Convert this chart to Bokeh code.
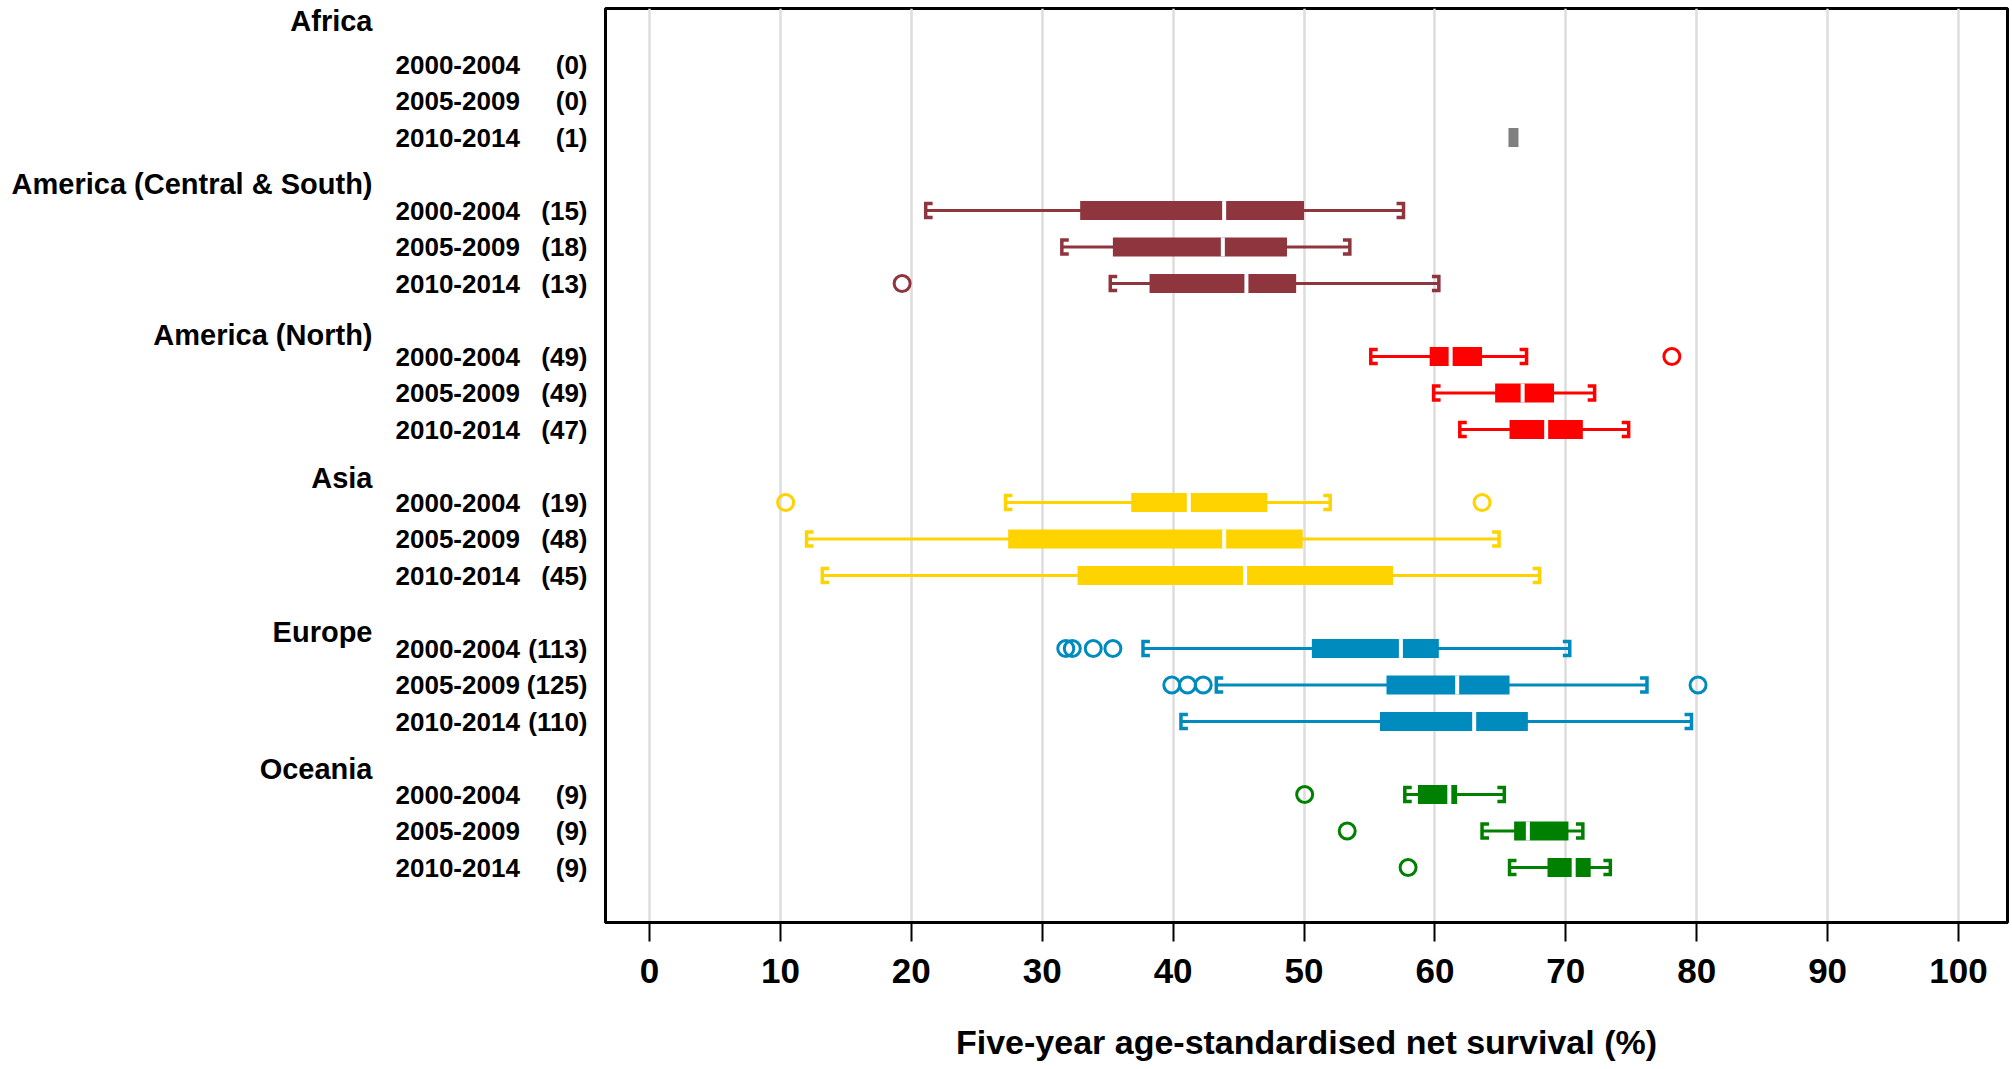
from bokeh.plotting import figure
from bokeh.layouts import row
from bokeh.models import Range1d, FixedTicker, ColumnDataSource
from bokeh.core.properties import value
from bokeh.embed import file_html
from bokeh.resources import INLINE

NaN = float("nan")

# ---------------- data ----------------
regions = ["Africa", "America (Central & South)", "America (North)", "Asia", "Europe", "Oceania"]
region_colors = ["#808080", "#8E353D", "#FF0000", "#FFD300", "#008BBF", "#008000"]
periods = ["2000-2004", "2005-2009", "2010-2014"]
counts = [[0, 0, 1], [15, 18, 13], [49, 49, 47], [19, 48, 45], [113, 125, 110], [9, 9, 9]]

whisker_lo = [[NaN, NaN, NaN], [21.1, 31.5, 35.2], [55.1, 59.9, 61.9],
              [27.2, 12.0, 13.2], [37.7, 43.3, 40.6], [57.7, 63.6, 65.7]]
q1 = [[NaN, NaN, NaN], [32.9, 35.4, 38.2], [59.6, 64.6, 65.7],
      [36.8, 27.4, 32.7], [50.6, 56.3, 55.8], [58.7, 66.05, 68.6]]
median = [[NaN, NaN, 66.0], [43.9, 43.8, 45.6], [61.2, 66.7, 68.5],
          [41.2, 43.9, 45.5], [57.4, 61.7, 63.0], [61.1, 67.1, 70.6]]
q3 = [[NaN, NaN, NaN], [50.0, 48.7, 49.4], [63.6, 69.1, 71.3],
      [47.2, 49.9, 56.8], [60.3, 65.7, 67.1], [61.7, 70.2, 71.9]]
whisker_hi = [[NaN, NaN, NaN], [57.6, 53.5, 60.3], [67.0, 72.2, 74.8],
              [52.0, 64.9, 68.0], [70.3, 76.2, 79.6], [65.3, 71.3, 73.4]]
outliers = [[[], [], []],
            [[], [], [19.3]],
            [[78.1], [], []],
            [[10.4, 63.6], [], []],
            [[31.8, 32.3, 33.9, 35.4], [39.9, 41.1, 42.3, 80.1], []],
            [[50.05], [53.3], [57.95]]]

x_ticks = [0, 10, 20, 30, 40, 50, 60, 70, 80, 90, 100]
x_title = "Five-year age-standardised net survival (%)"

# ---------------- layout / style ----------------
FONT = "Liberation Sans"
H = 1068
LAB_W = 603
MAIN_W = 1406
SLOT_PX = 36.5          # pixels per row slot
SLOT0_PX = 27.5         # page y of slot 0
FRAME_TOP, FRAME_BOT = 8, 922
X_START, X_END = -3.36, 103.74
HEADER_DY = [-1.2, -0.72, -0.58, -0.66, -0.44, -0.69]
BOX_H = 0.52
CAP_H = 0.19
CAP_STUB = 0.53

def slot(px):
    return (px - SLOT0_PX) / SLOT_PX

yr = Range1d(start=slot(FRAME_BOT), end=slot(FRAME_TOP))

def isnan(v):
    return v != v

seg = dict(x0=[], x1=[], y=[], c=[])
caps = dict(xs=[], ys=[], c=[])
box = dict(left=[], right=[], y=[], c=[])
med = dict(x=[], y0=[], y1=[])
outs = dict(x=[], y=[], c=[])
single = dict(x=[], y=[], c=[])
lab_period = dict(x=[], y=[], t=[])
lab_count = dict(x=[], y=[], t=[])
lab_head = dict(x=[], y=[], t=[])

for g, reg in enumerate(regions):
    col = region_colors[g]
    first = g * 4 + 1
    lab_head["y"].append(first + HEADER_DY[g]); lab_head["t"].append(reg); lab_head["x"].append(372)
    for k, per in enumerate(periods):
        y = first + k
        lab_period["x"].append(395); lab_period["y"].append(y); lab_period["t"].append(per)
        lab_count["x"].append(587); lab_count["y"].append(y); lab_count["t"].append("(%d)" % counts[g][k])
        lo, a, m, b, hi = whisker_lo[g][k], q1[g][k], median[g][k], q3[g][k], whisker_hi[g][k]
        if isnan(a):
            if not isnan(m):
                single["x"].append(m); single["y"].append(y); single["c"].append(col)
            continue
        seg["x0"].append(lo); seg["x1"].append(hi); seg["y"].append(y); seg["c"].append(col)
        caps["xs"].append([lo + CAP_STUB, lo, lo, lo + CAP_STUB])
        caps["ys"].append([y - CAP_H, y - CAP_H, y + CAP_H, y + CAP_H]); caps["c"].append(col)
        caps["xs"].append([hi - CAP_STUB, hi, hi, hi - CAP_STUB])
        caps["ys"].append([y - CAP_H, y - CAP_H, y + CAP_H, y + CAP_H]); caps["c"].append(col)
        box["left"].append(a); box["right"].append(b); box["y"].append(y); box["c"].append(col)
        med["x"].append(m); med["y0"].append(y - BOX_H / 2); med["y1"].append(y + BOX_H / 2)
        for o in outliers[g][k]:
            outs["x"].append(o); outs["y"].append(y); outs["c"].append(col)

# ---------------- label figure ----------------
lab = figure(width=LAB_W, height=H, x_range=Range1d(0, LAB_W), y_range=yr,
             x_axis_type=None, y_axis_type=None, toolbar_location=None,
             output_backend="svg", min_border_left=0, min_border_right=0,
             min_border_top=FRAME_TOP, min_border_bottom=H - FRAME_BOT)
lab.outline_line_color = None
lab.grid.visible = False
lab.text(x="x", y="y", text="t", source=ColumnDataSource(lab_period), text_font=value(FONT),
         text_font_style="bold", text_font_size="26px", text_align="left",
         text_baseline="middle", text_color="black")
lab.text(x="x", y="y", text="t", source=ColumnDataSource(lab_count), text_font=value(FONT),
         text_font_style="bold", text_font_size="26px", text_align="right",
         text_baseline="middle", text_color="black")
lab.text(x="x", y="y", text="t", source=ColumnDataSource(lab_head), text_font=value(FONT),
         text_font_style="bold", text_font_size="29px", text_align="right",
         text_baseline="middle", text_color="black")

# ---------------- main figure ----------------
p = figure(width=MAIN_W, height=H, x_range=Range1d(X_START, X_END), y_range=yr,
           y_axis_type=None, toolbar_location=None, output_backend="svg",
           min_border_left=2, min_border_right=2, min_border_top=FRAME_TOP,
           min_border_bottom=H - FRAME_BOT)
p.outline_line_color = "black"
p.outline_line_width = 3
p.background_fill_color = "white"
p.border_fill_color = "white"

p.xgrid.ticker = FixedTicker(ticks=x_ticks)
p.xgrid.grid_line_color = "#dddddd"
p.xgrid.grid_line_width = 2.5

ax = p.xaxis[0]
ax.ticker = FixedTicker(ticks=x_ticks)
ax.axis_line_width = 3
ax.axis_line_color = "black"
ax.major_tick_out = 19
ax.major_tick_in = 0
ax.major_tick_line_width = 2
ax.minor_tick_out = 0
ax.minor_tick_in = 0
ax.major_label_text_font = FONT
ax.major_label_text_font_style = "bold"
ax.major_label_text_font_size = "35px"
ax.major_label_text_color = "black"
ax.major_label_standoff = 17
ax.axis_label = x_title
ax.axis_label_text_font = FONT
ax.axis_label_text_font_style = "bold"
ax.axis_label_text_font_size = "34px"
ax.axis_label_text_color = "black"
ax.axis_label_standoff = 37

p.segment(x0="x0", y0="y", x1="x1", y1="y", source=ColumnDataSource(seg),
          line_color="c", line_width=2.8)
p.multi_line(xs="xs", ys="ys", source=ColumnDataSource(caps), line_color="c",
             line_width=3.5, line_join="miter")
p.hbar(y="y", left="left", right="right", height=BOX_H, source=ColumnDataSource(box),
       fill_color="c", line_color=None)
p.segment(x0="x", y0="y0", x1="x", y1="y1", source=ColumnDataSource(med),
          line_color="white", line_width=4)
p.rect(x="x", y="y", width=10, height=BOX_H, width_units="screen",
       source=ColumnDataSource(single), fill_color="c", line_color=None)
p.scatter(x="x", y="y", source=ColumnDataSource(outs), marker="circle", size=16,
          fill_color=None, line_color="c", line_width=3)

layout = row(lab, p)
open("out.html", "w").write(file_html(layout, INLINE))
